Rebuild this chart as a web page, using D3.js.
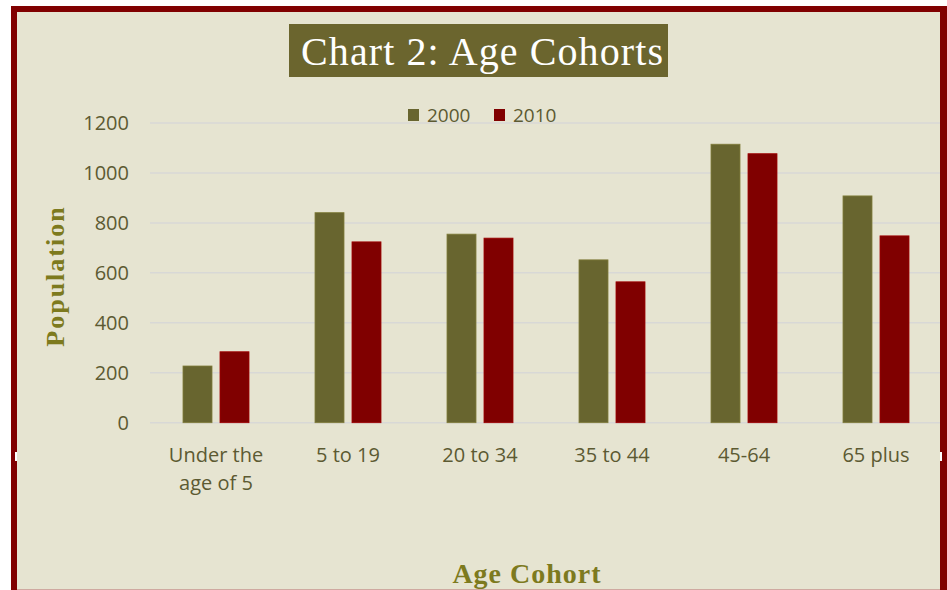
<!DOCTYPE html>
<html>
<head>
<meta charset="utf-8">
<script src="https://cdn.jsdelivr.net/npm/d3@7"></script>
<style>
  body { margin: 0; background: #ffffff; }
  svg { display: block; }
</style>
</head>
<body>
<svg width="947" height="590"></svg>
<script>
const categories = [["Under the", "age of 5"], ["5 to 19"], ["20 to 34"], ["35 to 44"], ["45-64"], ["65 plus"]];
const series = ["2000", "2010"];
const values2000 = [227, 841, 755, 652, 1115, 908];
const values2010 = [284, 724, 739, 564, 1077, 748];
const yTicks = [0, 200, 400, 600, 800, 1000, 1200];

const colors = { "2000": "#68652f", "2010": "#800000" };
const textColor = "#5c5a32";

const svg = d3.select("svg");
const width = +svg.attr("width");
const height = +svg.attr("height");

// frame
svg.append("rect")
  .attr("x", 11).attr("y", 6)
  .attr("width", width - 11).attr("height", height - 6)
  .attr("fill", "#800000");
svg.append("rect")
  .attr("x", 17).attr("y", 12)
  .attr("width", 940 - 17).attr("height", height - 13)
  .attr("fill", "#e6e4d1");
svg.append("line")
  .attr("x1", 17).attr("x2", 940)
  .attr("y1", height - 0.5).attr("y2", height - 0.5)
  .attr("stroke", "#cfa9a0");
// small white notches in the frame
svg.append("rect").attr("x", 15).attr("y", 452).attr("width", 2).attr("height", 9).attr("fill", "#ffffff");
svg.append("rect").attr("x", 940).attr("y", 452).attr("width", 2).attr("height", 9).attr("fill", "#ffffff");

const labels = categories.map((c) => c.join(" "));
const data = labels.map((l, i) => ({ label: l, lines: categories[i], "2000": values2000[i], "2010": values2010[i] }));

const x0 = d3.scaleBand().domain(labels).range([150, 942]);
const x1 = d3.scaleBand().domain(series).range([33, 99]).paddingInner(0.216);
const y = d3.scaleLinear().domain([0, 1200]).range([422.7, 123]);

// gridlines
svg.append("g")
  .selectAll("line")
  .data(yTicks)
  .join("line")
  .attr("x1", 150).attr("x2", 940)
  .attr("y1", (d) => y(d)).attr("y2", (d) => y(d))
  .attr("stroke", "#d8d8d6")
  .attr("stroke-width", 1.5);

// y axis labels
const yAxis = svg.append("g")
  .attr("transform", "translate(139,0)")
  .call(d3.axisLeft(y).tickValues(yTicks).tickSize(0).tickPadding(10).tickFormat(d3.format("d")));
yAxis.select(".domain").remove();
yAxis.selectAll("text")
  .attr("fill", textColor)
  .style("font-family", "'Open Sans', sans-serif")
  .style("font-size", "20px");

// bars
const groups = svg.append("g")
  .selectAll("g")
  .data(data)
  .join("g")
  .attr("transform", (d) => `translate(${x0(d.label)},0)`);

groups.selectAll("rect")
  .data((d) => series.map((s) => ({ key: s, value: d[s] })))
  .join("rect")
  .attr("x", (d) => x1(d.key))
  .attr("width", x1.bandwidth())
  .attr("y", (d) => y(d.value))
  .attr("height", (d) => y(0) - y(d.value))
  .attr("fill", (d) => colors[d.key])
  .attr("stroke", (d) => d3.color(colors[d.key]).brighter(0.6))
  .attr("stroke-width", 0.8);

// category labels
const catText = svg.append("g")
  .selectAll("text")
  .data(data)
  .join("text")
  .attr("x", (d) => x0(d.label) + x0.bandwidth() / 2)
  .attr("y", 462)
  .attr("text-anchor", "middle")
  .attr("fill", textColor)
  .style("font-family", "'Open Sans', sans-serif")
  .style("font-size", "20px");
catText.selectAll("tspan")
  .data((d) => d.lines)
  .join("tspan")
  .attr("x", function () { return d3.select(this.parentNode).attr("x"); })
  .attr("dy", (d, i) => (i === 0 ? 0 : 28))
  .text((d) => d);

// title
svg.append("rect")
  .attr("x", 289).attr("y", 24)
  .attr("width", 379).attr("height", 53)
  .attr("fill", "#6b652e");
svg.append("text")
  .attr("x", 482).attr("y", 65)
  .attr("text-anchor", "middle")
  .attr("fill", "#ffffff")
  .style("font-family", "'Liberation Serif', serif")
  .style("font-size", "40px")
  .attr("textLength", 362)
  .text("Chart 2: Age Cohorts");

// legend
const legend = svg.append("g")
  .selectAll("g")
  .data(series)
  .join("g")
  .attr("transform", (d, i) => `translate(${408 + i * 86},0)`);
legend.append("rect")
  .attr("x", 0).attr("y", 109)
  .attr("width", 11).attr("height", 12)
  .attr("fill", (d) => colors[d]);
legend.append("text")
  .attr("x", 19).attr("y", 122)
  .attr("fill", textColor)
  .style("font-family", "'Open Sans', sans-serif")
  .style("font-size", "19px")
  .text((d) => d);

// axis titles
svg.append("text")
  .attr("x", 527).attr("y", 583)
  .attr("text-anchor", "middle")
  .attr("fill", "#7d7a1e")
  .style("font-family", "'Liberation Serif', serif")
  .style("font-weight", "bold")
  .style("font-size", "28px")
  .style("letter-spacing", "1px")
  .text("Age Cohort");

svg.append("text")
  .attr("transform", "translate(64,276) rotate(-90)")
  .attr("text-anchor", "middle")
  .attr("fill", "#7d7a1e")
  .style("font-family", "'Liberation Serif', serif")
  .style("font-weight", "bold")
  .style("font-size", "26px")
  .style("letter-spacing", "2px")
  .text("Population");
</script>
</body>
</html>
